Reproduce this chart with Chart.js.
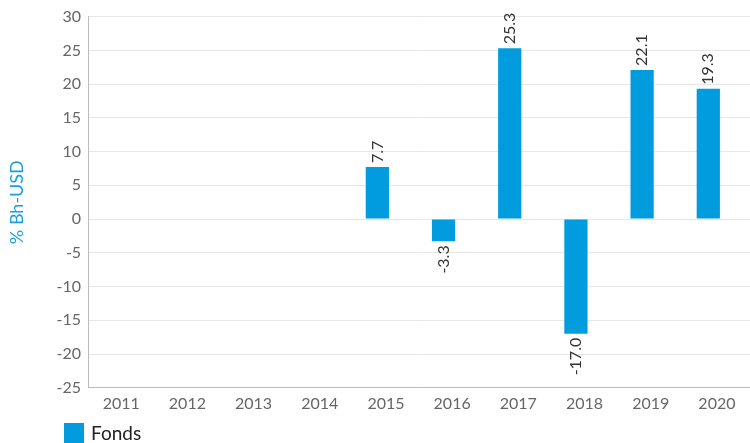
<!DOCTYPE html>
<html>
<head>
<meta charset="utf-8">
<script src="https://cdn.jsdelivr.net/npm/chart.js@4"></script>
<style>
  body { margin: 0; background: #fff; }
  #wrap { position: relative; width: 750px; height: 443px; }
  #legend { position: absolute; left: 64px; top: 421px; font: 19px Lato, sans-serif; color: #222; display: flex; align-items: center; }
  #legend span { display: inline-block; width: 20px; height: 20px; background: #009CDE; margin-right: 7px; }
</style>
</head>
<body>
<div id="wrap">
  <canvas id="c" width="750" height="443"></canvas>
  <div id="legend"><span></span>Fonds</div>
</div>
<script>
const years = ["2011", "2012", "2013", "2014", "2015", "2016", "2017", "2018", "2019", "2020"];
const fonds = [null, null, null, null, 7.7, -3.3, 25.3, -17.0, 22.1, 19.3];
// second series is empty in the source, but it still takes its slot in each group
const empty = [null, null, null, null, null, null, null, null, null, null];

const valueLabels = {
  id: "valueLabels",
  afterDatasetsDraw(chart) {
    const ctx = chart.ctx;
    const meta = chart.getDatasetMeta(0);
    ctx.save();
    ctx.font = "16px Lato, sans-serif";
    ctx.fillStyle = "#333";
    ctx.textBaseline = "middle";
    meta.data.forEach((bar, i) => {
      const v = fonds[i];
      if (v === null) return;
      ctx.save();
      ctx.translate(bar.x, bar.y);
      ctx.rotate(-Math.PI / 2);
      if (v >= 0) {
        ctx.textAlign = "left";
        ctx.fillText(v.toFixed(1), 4, 0);
      } else {
        ctx.textAlign = "right";
        ctx.fillText(v.toFixed(1), -4, 0);
      }
      ctx.restore();
    });
    ctx.restore();
  }
};

new Chart(document.getElementById("c"), {
  type: "bar",
  data: {
    labels: years,
    datasets: [
      {
        label: "Fonds",
        data: fonds,
        backgroundColor: "#009CDE",
        barPercentage: 1.35,
        categoryPercentage: 0.52
      },
      {
        label: "",
        data: empty,
        backgroundColor: "#ccc",
        barPercentage: 1.35,
        categoryPercentage: 0.52
      }
    ]
  },
  options: {
    responsive: false,
    animation: false,
    layout: { padding: { top: 8, right: 0, bottom: 24, left: 2 } },
    plugins: { legend: { display: false }, tooltip: { enabled: false } },
    scales: {
      x: {
        grid: { display: false, drawTicks: false },
        border: { color: "#bbb" },
        ticks: { color: "#666", font: { size: 16, family: "Lato, sans-serif" }, padding: 6 }
      },
      y: {
        min: -25,
        max: 30,
        ticks: { stepSize: 5, color: "#666", font: { size: 16, family: "Lato, sans-serif" }, padding: 7 },
        grid: { color: "#e6e6e6", drawTicks: false },
        border: { color: "#bbb" },
        title: { display: true, text: "% Bh-USD", color: "#1a9fde", font: { size: 18, family: "Lato, sans-serif" }, padding: { bottom: 22 } }
      }
    }
  },
  plugins: [valueLabels]
});
</script>
</body>
</html>
